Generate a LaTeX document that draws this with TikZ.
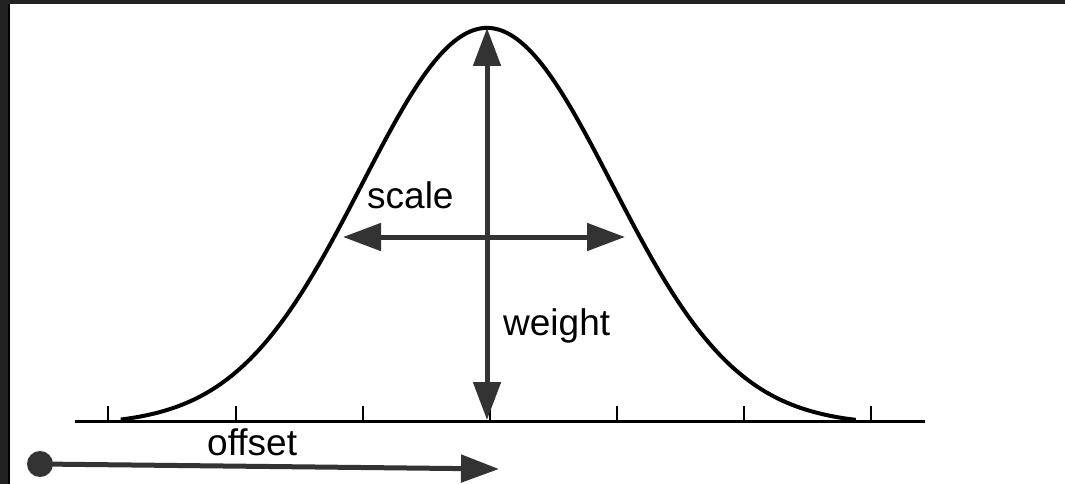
\documentclass[tikz,border=0pt]{standalone}
\usepackage{fontspec}
\setmainfont{Liberation Sans}
\usetikzlibrary{arrows.meta}
\definecolor{arrowgray}{HTML}{333333}
\definecolor{framegray}{HTML}{222222}
\begin{document}
\begin{tikzpicture}[x=1pt,y=-1pt,
  lbl/.style={font=\fontsize{37}{44}\selectfont,inner sep=0pt,anchor=base west},
  bigarrow/.style={draw=arrowgray,line width=5pt,-{Triangle[length=38pt,width=27pt]}}]
\useasboundingbox (0,0) rectangle (1065,484);
% frame
\fill[framegray] (0,0) rectangle (1065,484);
\fill[white] (9,4) rectangle (1065,484);
\draw[black,line width=1.5pt] (9,4) -- (9,484);
% axis and ticks
\coordinate (axl) at (75,421);
\coordinate (axr) at (925,421);
\draw[line width=3pt] (axl) -- (axr);
\foreach \t in {108,236,363,490,617,744,871}
  \draw[line width=2pt] (\t,421) -- (\t,406);
% bell curve
\draw[line width=4pt,line join=round] plot[domain=-2.93:2.95,samples=120,smooth]
  ({487+125*\x},{420-397*(exp(-\x*\x/2)-0.0125)});
% weight
\coordinate (peak) at (487,28);
\coordinate (base) at (487,420);
\draw[bigarrow,{Triangle[length=38pt,width=27pt]}-{Triangle[length=38pt,width=27pt]}] (base) -- (peak);
% scale
\coordinate (sl) at (343,237);
\coordinate (sr) at (625,237);
\draw[bigarrow,{Triangle[length=38pt,width=27pt]}-{Triangle[length=38pt,width=27pt]}] (sl) -- (sr);
% offset
\node (dot) at (40,464) [circle,fill=arrowgray,minimum size=26pt,inner sep=0pt] {};
\coordinate (offend) at (499,469);
\draw[bigarrow] (dot.center) -- (offend);
% labels
\node[lbl] (scale) at (367,208) {scale};
\node[lbl] (weight) at (503,335) {weight};
\node[lbl] (offset) at (207,455) {offset};
\end{tikzpicture}
\end{document}
